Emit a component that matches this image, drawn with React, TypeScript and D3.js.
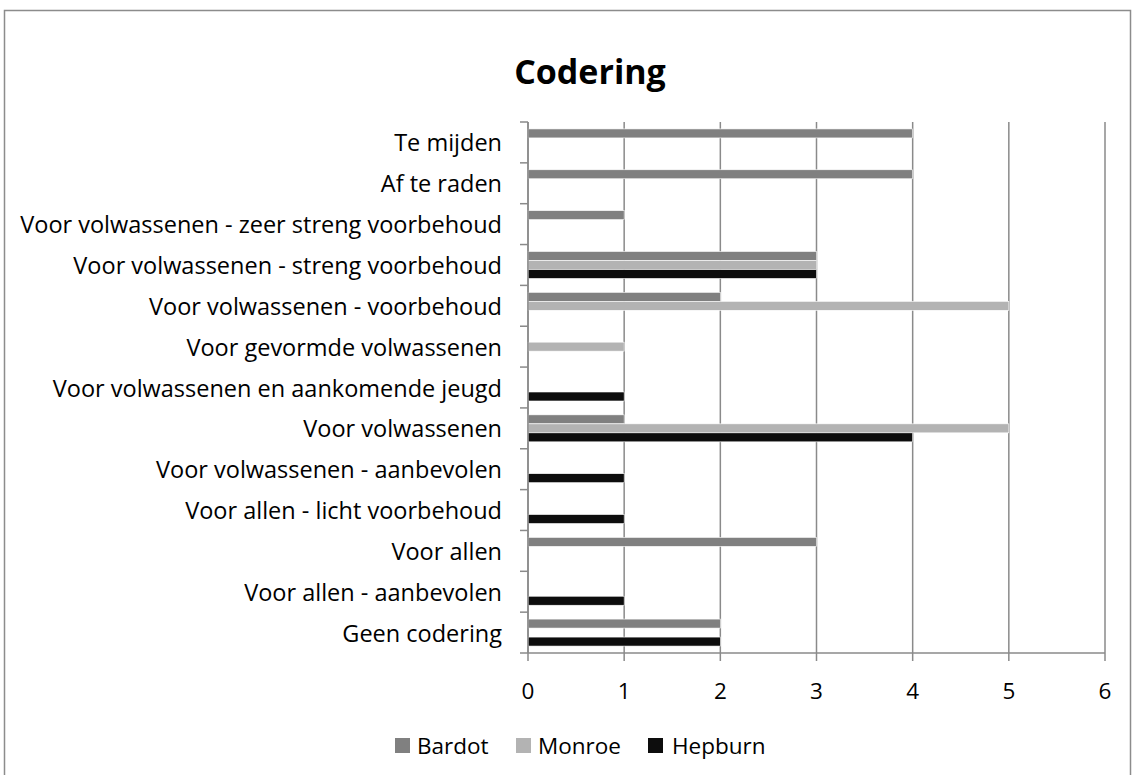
import React from "react";
import * as d3 from "d3";

const categories = [
  "Te mijden",
  "Af te raden",
  "Voor volwassenen - zeer streng voorbehoud",
  "Voor volwassenen - streng voorbehoud",
  "Voor volwassenen - voorbehoud",
  "Voor gevormde volwassenen",
  "Voor volwassenen en aankomende jeugd",
  "Voor volwassenen",
  "Voor volwassenen - aanbevolen",
  "Voor allen - licht voorbehoud",
  "Voor allen",
  "Voor allen - aanbevolen",
  "Geen codering",
];
const seriesNames = ["Bardot", "Monroe", "Hepburn"];
const bardot = [4, 4, 1, 3, 2, 0, 0, 1, 0, 0, 3, 0, 2];
const monroe = [0, 0, 0, 3, 5, 1, 0, 5, 0, 0, 0, 0, 0];
const hepburn = [0, 0, 0, 3, 0, 0, 1, 4, 1, 1, 0, 1, 2];
const xTicks = [0, 1, 2, 3, 4, 5, 6];
const colors = ["#808080", "#b3b3b3", "#0d0d0d"];

const W = 1132;
const H = 775;
const left = 528;
const right = 1105;
const top = 122;
const bottom = 653;
const FONT = "'Open Sans', 'Noto Sans', sans-serif";

export default function App() {
  const values = [bardot, monroe, hepburn];
  const x = d3.scaleLinear().domain([0, 6]).range([left, right]);
  const y = d3.scaleBand<string>().domain(categories).range([top, bottom]).padding(0);
  const inner = d3
    .scaleBand<string>()
    .domain(seriesNames)
    .range([0, y.bandwidth()])
    .paddingInner(0)
    .paddingOuter(0.77);
  const boundaries = d3.range(categories.length + 1).map((i) => top + i * y.step());
  const legendItems = [
    { name: "Bardot", sx: 395, tx: 417 },
    { name: "Monroe", sx: 516, tx: 538 },
    { name: "Hepburn", sx: 648, tx: 672 },
  ];
  const gridColor = "#8a8a8a";
  const fs = 22.5;
  const fsLabel = 23.5;

  return (
    <svg
      width={W}
      height={H}
      style={{ position: "absolute", left: 0, top: 0, background: "#fff" }}
      fontFamily={FONT}
    >
      <rect x={4.5} y={10.5} width={1126} height={H + 20} fill="#fff" stroke="#8c8c8c" strokeWidth={1.5} />
      <text x={590} y={84} textAnchor="middle" fontSize={34} fontWeight="bold" fill="#000">
        Codering
      </text>
      {xTicks.map((t) => (
        <line key={"g" + t} x1={x(t)} x2={x(t)} y1={top} y2={bottom + 8} stroke={gridColor} strokeWidth={1.5} />
      ))}
      {categories.map((c, ci) =>
        seriesNames.map((s, si) => {
          const v = values[si][ci];
          if (!v) return null;
          return (
            <rect
              key={c + s}
              x={x(0)}
              y={(y(c) as number) + (inner(s) as number)}
              width={x(v) - x(0)}
              height={inner.bandwidth()}
              fill={colors[si]}
              stroke="#ffffff"
              strokeWidth={0.6}
            />
          );
        })
      )}
      <line x1={left} x2={left} y1={top} y2={bottom} stroke={gridColor} strokeWidth={1.5} />
      <line x1={left} x2={right} y1={bottom} y2={bottom} stroke={gridColor} strokeWidth={1.5} />
      {boundaries.map((b, i) => (
        <line key={"t" + i} x1={left - 8} x2={left} y1={b} y2={b} stroke={gridColor} strokeWidth={1.5} />
      ))}
      {categories.map((c) => (
        <text
          key={"l" + c}
          x={502}
          y={(y(c) as number) + y.bandwidth() / 2}
          textAnchor="end"
          dominantBaseline="central"
          fontSize={fsLabel}
          fill="#000"
        >
          {c}
        </text>
      ))}
      {xTicks.map((t) => (
        <text key={"x" + t} x={x(t)} y={690} textAnchor="middle" dominantBaseline="central" fontSize={fs} fill="#000">
          {t}
        </text>
      ))}
      {legendItems.map((it, i) => (
        <g key={it.name}>
          <rect x={it.sx} y={738} width={15} height={15} fill={colors[i]} />
          <text x={it.tx} y={745} dominantBaseline="central" fontSize={fs} fill="#000">
            {it.name}
          </text>
        </g>
      ))}
    </svg>
  );
}
